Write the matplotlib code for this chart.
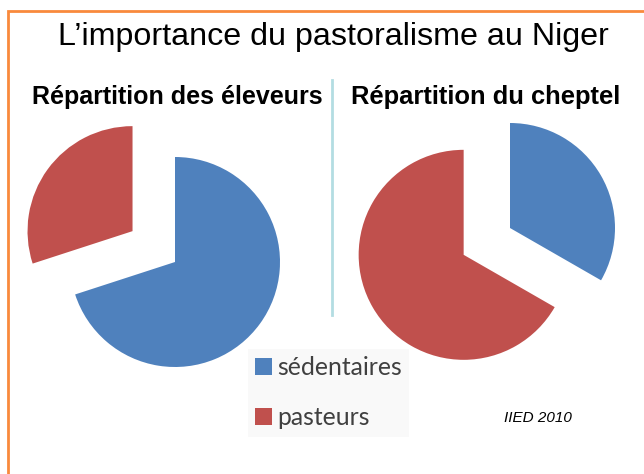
import matplotlib
matplotlib.use("Agg")
import matplotlib.pyplot as plt
from matplotlib.lines import Line2D

# ---- data ----
categories = ["sédentaires", "pasteurs"]
eleveurs = [70, 30]      # Répartition des éleveurs (%)
cheptel = [33.3, 66.7]   # Répartition du cheptel (%)
colors = ["#4F81BD", "#C0504D"]
title = "L’importance du pastoralisme au Niger"
subtitles = ["Répartition des éleveurs", "Répartition du cheptel"]
source = "IIED 2010"

W, H = 644, 474
R = 105
fig = plt.figure(figsize=(W / 100, H / 100), dpi=100)
ax = fig.add_axes([0, 0, 1, 1])


def Y(y):
    return H - y


w1, _ = ax.pie(eleveurs, colors=colors, startangle=90, counterclock=False,
               center=(175, Y(262)), radius=R, explode=[0, 0.5 * R],
               wedgeprops=dict(linewidth=0))
w2, _ = ax.pie(cheptel, colors=colors, startangle=90, counterclock=False,
               center=(510, Y(228)), radius=R, explode=[0, 0.51 * R],
               wedgeprops=dict(linewidth=0))

ax.set_xlim(0, W)
ax.set_ylim(0, H)
ax.set_aspect("auto")
ax.axis("off")

# orange frame
ax.add_line(Line2D([8.5, 8.5, W + 5], [Y(H + 5), Y(10.5), Y(10.5)],
                   color="#F98A3C", lw=2, solid_joinstyle="miter"))
# separator
ax.add_line(Line2D([332.5, 332.5], [Y(80), Y(315)], color="#B3DDE2", lw=2))

ax.text(333, Y(45), title, ha="center", va="baseline",
        fontsize=23.2, family="Liberation Sans", color="#000000")
ax.text(177, Y(104), subtitles[0], ha="center", va="baseline",
        fontsize=18, family="Liberation Sans",
        fontweight="bold", color="#000000")
ax.text(486, Y(104), subtitles[1], ha="center", va="baseline",
        fontsize=18.4, family="Liberation Sans",
        fontweight="bold", color="#000000")

leg = ax.legend(w1, categories, loc="upper left",
                bbox_to_anchor=(248, Y(349)), bbox_transform=ax.transData,
                borderaxespad=0,
                prop=dict(family="Lato", size=17.8), labelcolor="#404040",
                handlelength=0.66, handleheight=0.66, handletextpad=0.22,
                labelspacing=1.08, borderpad=0.3, fancybox=False,
                frameon=True, facecolor="#F9F9F9", edgecolor="none",
                framealpha=1)

ax.text(538, Y(422), source, ha="center", va="baseline", fontsize=11,
        family="Liberation Sans", style="italic", color="#000000")

fig.savefig("out.png", dpi=100)
